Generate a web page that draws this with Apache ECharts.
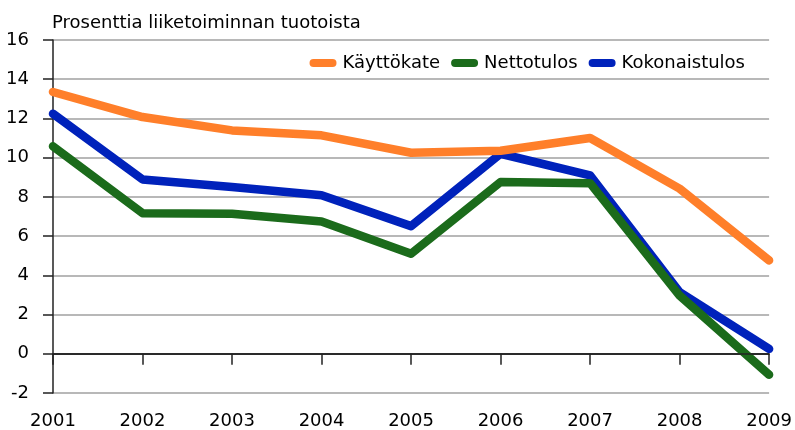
<!DOCTYPE html>
<html>
<head>
<meta charset="utf-8">
<script src="https://cdn.jsdelivr.net/npm/echarts@6/dist/echarts.min.js"></script>
<style>
  html, body { margin: 0; padding: 0; background: #fff; }
  #chart { width: 795px; height: 430px; }
</style>
</head>
<body>
<div id="chart"></div>
<script>
// vuodet ja sarjat
const years = ['2001', '2002', '2003', '2004', '2005', '2006', '2007', '2008', '2009'];
const kayttokate = [13.35, 12.07, 11.39, 11.14, 10.25, 10.35, 11.0, 8.42, 4.76];
const nettotulos = [10.58, 7.17, 7.14, 6.75, 5.1, 8.76, 8.7, 2.97, -1.07];
const kokonaistulos = [12.24, 8.89, 8.5, 8.08, 6.51, 10.2, 9.1, 3.14, 0.25];

const font = 'DejaVu Sans';
let myChart = echarts.init(document.getElementById('chart'));

// legendan pyöreäpäinen viiva
const stadium = 'path://M4,0 L23,0 A4,4 0 0 1 23,8 L4,8 A4,4 0 0 1 4,0 Z';

function lineSeries(name, data, color, z) {
  return {
    name: name,
    type: 'line',
    data: data,
    z: z,
    symbol: 'none',
    animation: false,
    lineStyle: { color: color, width: 8.5, cap: 'round', join: 'round' },
    itemStyle: { color: color }
  };
}

let option = {
  animation: false,
  title: {
    text: 'Prosenttia liiketoiminnan tuotoista',
    left: 52,
    top: 14,
    padding: 0,
    textStyle: { fontFamily: font, fontSize: 18, fontWeight: 'normal', color: '#000' }
  },
  legend: {
    right: 50,
    top: 54,
    padding: 0,
    itemGap: 11,
    itemWidth: 27,
    itemHeight: 8,
    icon: stadium,
    data: ['Käyttökate', 'Nettotulos', 'Kokonaistulos'],
    textStyle: { fontFamily: font, fontSize: 18, color: '#000', padding: [0, 0, 0, 1] }
  },
  grid: { left: 53, right: 22, top: 40, bottom: 37 },
  xAxis: {
    type: 'category',
    data: years,
    boundaryGap: false,
    axisLine: { lineStyle: { color: '#222', width: 1.5 } },
    axisTick: { length: 11, lineStyle: { color: '#222', width: 1.5 } },
    axisLabel: { fontFamily: font, fontSize: 18, color: '#000', margin: 19 },
    splitLine: { show: false }
  },
  yAxis: {
    type: 'value',
    min: -2,
    max: 16,
    interval: 2,
    axisLine: { show: true, lineStyle: { color: '#222', width: 1.5 } },
    axisTick: { show: true, length: 10, lineStyle: { color: '#222', width: 1.5 } },
    axisLabel: { fontFamily: font, fontSize: 18, color: '#000', margin: 24 },
    splitLine: { lineStyle: { color: '#a0a0a0', width: 1.5 } }
  },
  series: [
    lineSeries('Käyttökate', kayttokate, '#ff7f2a', 3),
    lineSeries('Nettotulos', nettotulos, '#1b6b1b', 4),
    Object.assign(lineSeries('Kokonaistulos', kokonaistulos, '#0022bb', 2), {
      markLine: {
        silent: true,
        symbol: 'none',
        label: { show: false },
        lineStyle: { color: '#222', width: 1.5, type: 'solid' },
        data: [{ yAxis: 0 }]
      }
    })
  ]
};

myChart.setOption(option);
</script>
</body>
</html>
